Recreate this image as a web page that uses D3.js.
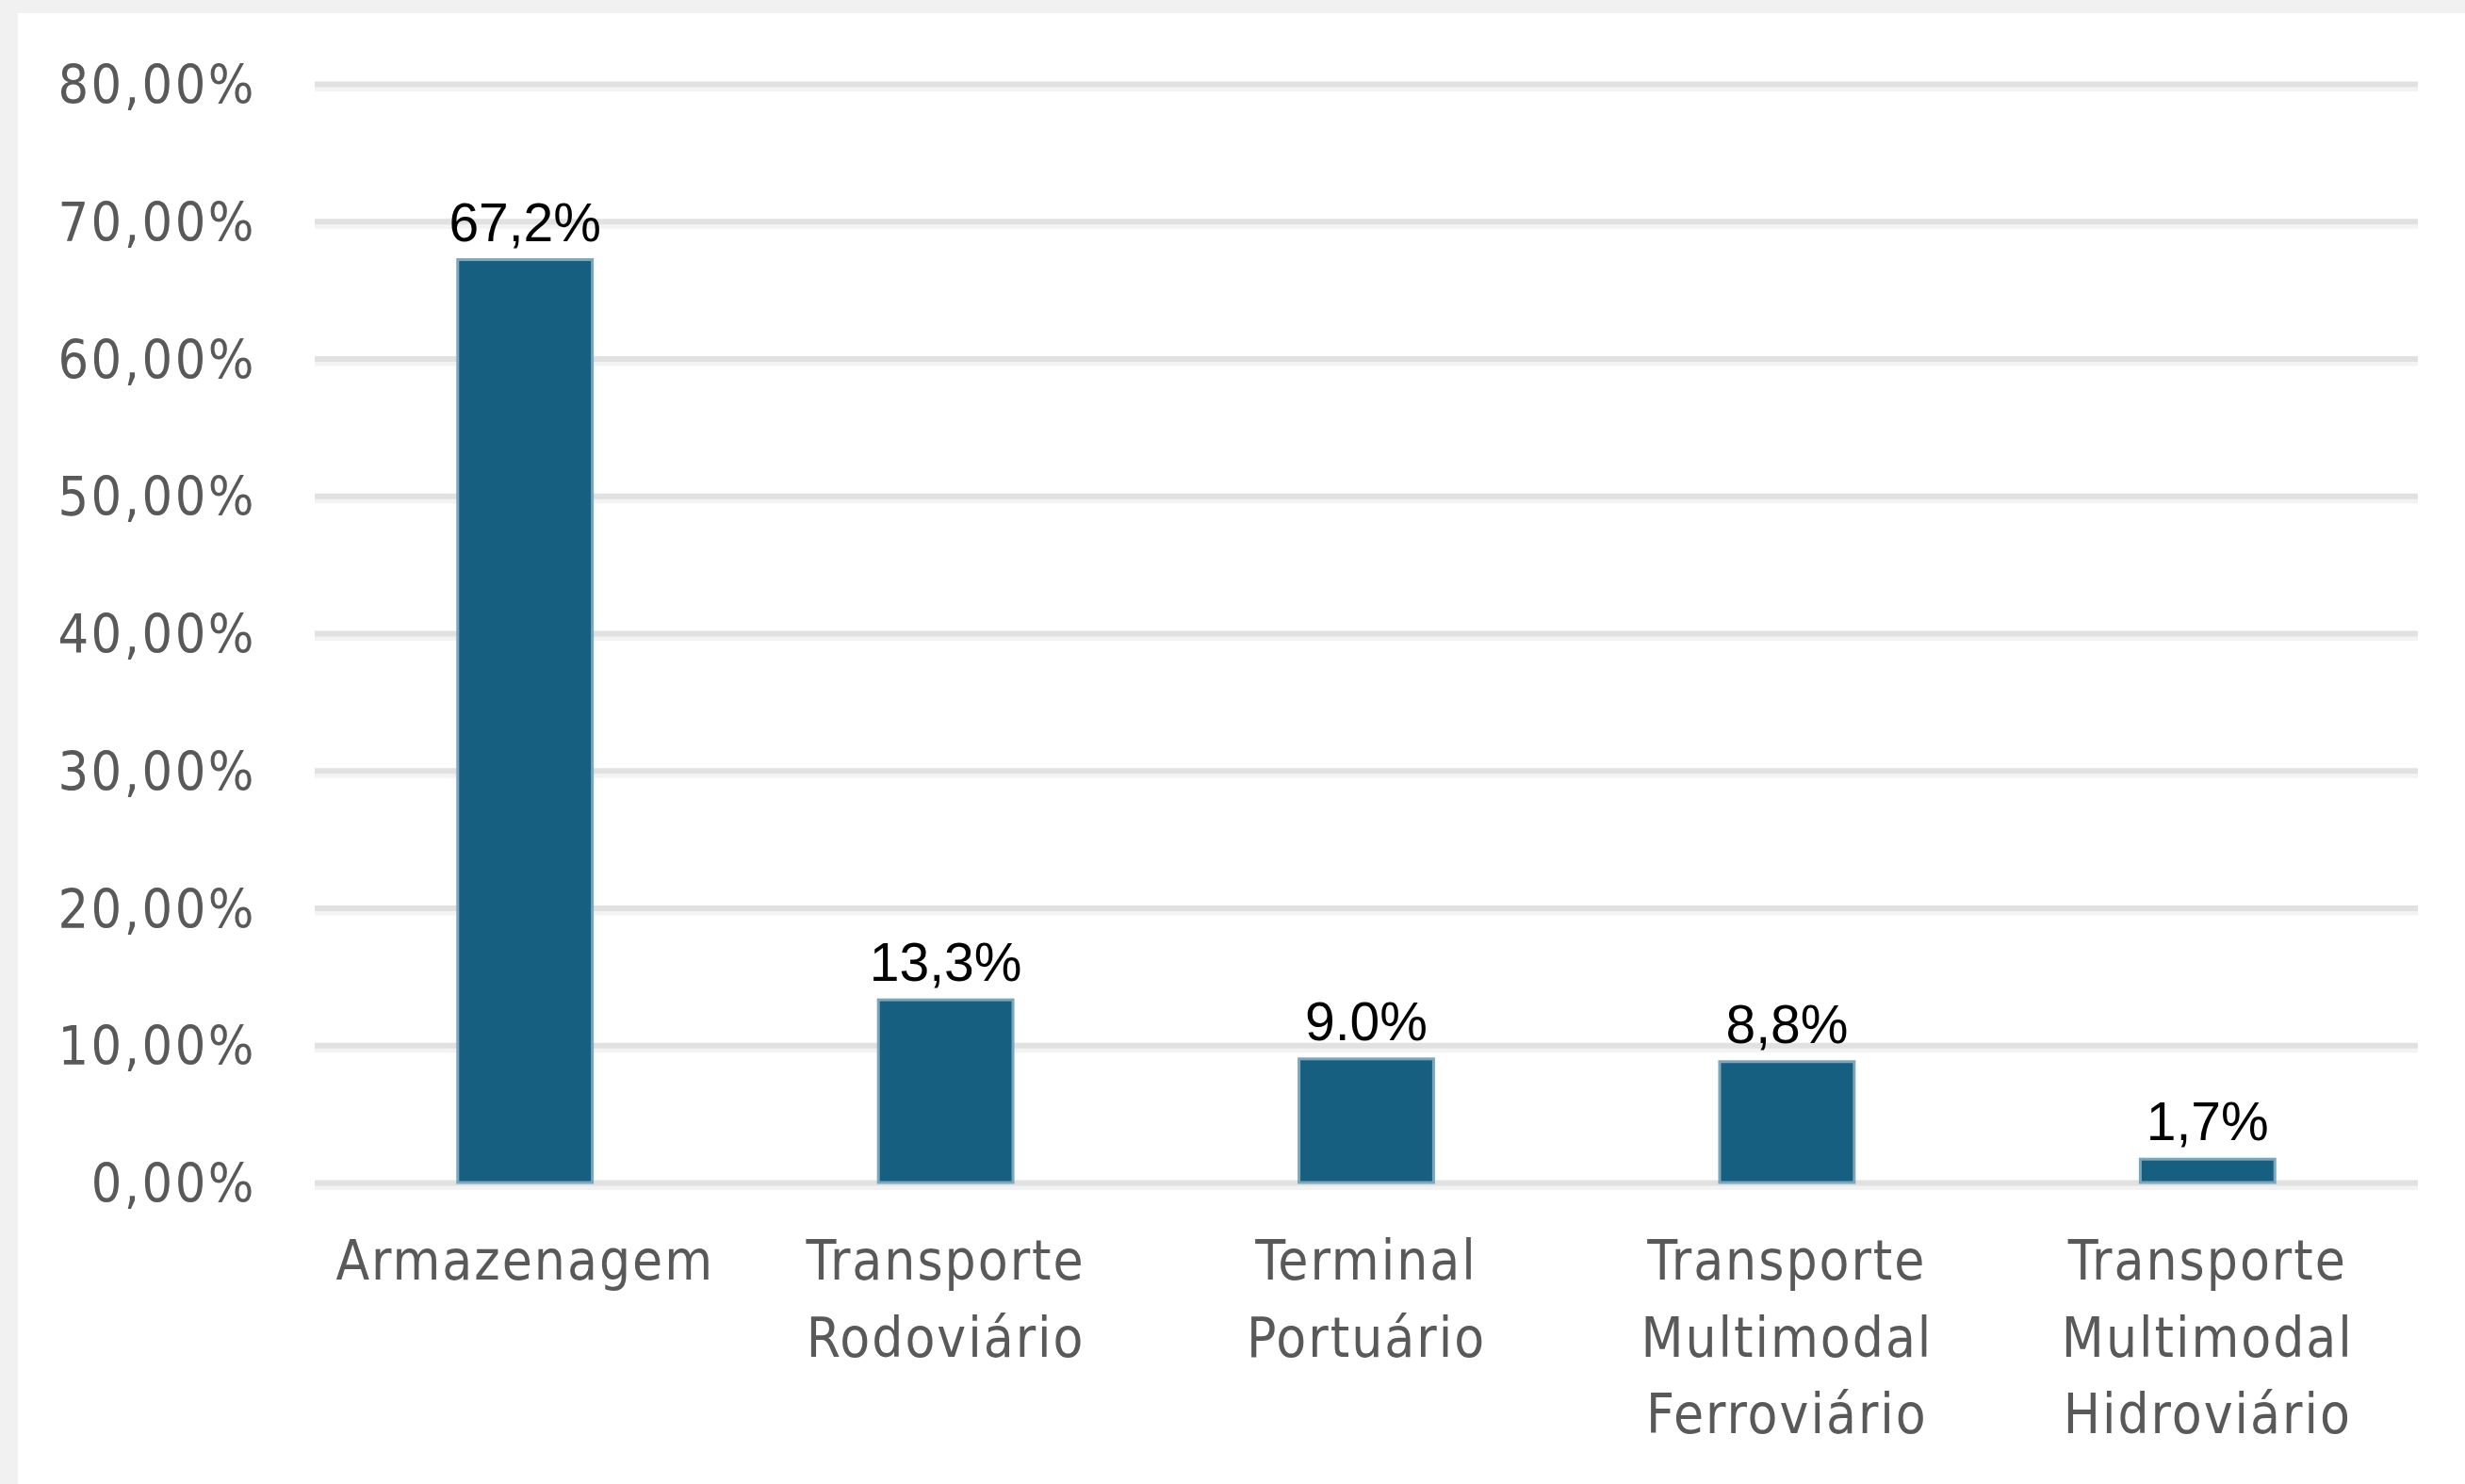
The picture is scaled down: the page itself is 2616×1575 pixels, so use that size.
<!DOCTYPE html>
<html>
<head>
<meta charset="utf-8">
<script src="https://cdn.jsdelivr.net/npm/d3@7"></script>
<style>
  html, body { margin: 0; padding: 0; background: #ffffff; }
  svg { display: block; }
  .tick-label { font-family: "DejaVu Sans Condensed", "DejaVu Sans", sans-serif; font-stretch: condensed; fill: #595959; }
  .value-label { font-family: "Liberation Sans", Arial, sans-serif; fill: #000000; }
</style>
</head>
<body>
<svg id="chart"></svg>
<script>
const categories = [
    ["Armazenagem"],
    ["Transporte", "Rodoviário"],
    ["Terminal", "Portuário"],
    ["Transporte", "Multimodal", "Ferroviário"],
    ["Transporte", "Multimodal", "Hidroviário"]
];
const shares = [67.2, 13.3, 9.0, 8.8, 1.7];
const valueLabels = ["67,2%", "13,3%", "9.0%", "8,8%", "1,7%"];
const yTicks = [0, 10, 20, 30, 40, 50, 60, 70, 80];
const yTickLabels = ["0,00%", "10,00%", "20,00%", "30,00%", "40,00%", "50,00%", "60,00%", "70,00%", "80,00%"];

const width = 2616;
const height = 1575;
const plotLeft = 334;
const plotRight = 2566;
const plotTop = 89;
const plotBottom = 1255;

function drawChart() {
    const svg = d3.select("#chart")
        .attr("width", width)
        .attr("height", height);

    // faint frame along top and left like the screenshot edge
    svg.append("rect").attr("x", 0).attr("y", 0).attr("width", width).attr("height", 14).attr("fill", "#f1f1f1");
    svg.append("rect").attr("x", 0).attr("y", 0).attr("width", 19).attr("height", height).attr("fill", "#f1f1f1");

    const ids = d3.range(categories.length);
    const x = d3.scaleBand()
        .domain(ids)
        .range([plotLeft, plotRight])
        .paddingInner(0.68)
        .paddingOuter(0.34);
    const y = d3.scaleLinear()
        .domain([0, 80])
        .range([plotBottom, plotTop]);

    // gridlines: darker band with a pale band underneath
    svg.append("g")
        .attr("transform", "translate(" + plotLeft + ", 5)")
        .call(d3.axisLeft(y).tickValues(yTicks).tickSize(-(plotRight - plotLeft)).tickFormat(""))
        .call(g => g.select(".domain").remove())
        .call(g => g.selectAll("line").attr("stroke", "#f3f3f3").attr("stroke-width", 5));
    svg.append("g")
        .attr("transform", "translate(" + plotLeft + ", 0)")
        .call(d3.axisLeft(y).tickValues(yTicks).tickSize(-(plotRight - plotLeft)).tickFormat(""))
        .call(g => g.select(".domain").remove())
        .call(g => g.selectAll("line").attr("stroke", "#e1e1e1").attr("stroke-width", 6));

    // y tick labels
    const yAxis = svg.append("g")
        .attr("transform", "translate(272, 0)")
        .call(d3.axisLeft(y).tickValues(yTicks).tickSize(0).tickPadding(0)
            .tickFormat((d, i) => yTickLabels[i]));
    yAxis.select(".domain").remove();
    yAxis.selectAll("text")
        .attr("class", "tick-label")
        .attr("font-size", 57)
        .attr("letter-spacing", 2.5)
        .attr("dy", "0.36em");

    // bars
    svg.append("g")
        .selectAll("rect")
        .data(shares)
        .join("rect")
        .attr("x", (d, i) => x(i))
        .attr("y", d => y(d))
        .attr("width", x.bandwidth())
        .attr("height", d => y(0) - y(d))
        .attr("fill", "#175f81")
        .attr("stroke", "#7ba7bd")
        .attr("stroke-width", 3);

    // value labels
    svg.append("g")
        .selectAll("text")
        .data(shares)
        .join("text")
        .attr("class", "value-label")
        .attr("x", (d, i) => x(i) + x.bandwidth() / 2)
        .attr("y", d => y(d) - 20)
        .attr("text-anchor", "middle")
        .attr("font-size", 57)
        .text((d, i) => valueLabels[i]);

    // category labels
    const xAxis = svg.append("g")
        .attr("transform", "translate(0, " + plotBottom + ")")
        .call(d3.axisBottom(x).tickSize(0).tickFormat(""));
    xAxis.select(".domain").remove();
    xAxis.selectAll(".tick").each(function (d) {
        const t = d3.select(this).append("text")
            .attr("class", "tick-label")
            .attr("text-anchor", "middle")
            .attr("font-size", 58)
            .attr("letter-spacing", 2);
        categories[d].forEach((line, k) => {
            t.append("tspan")
                .attr("x", 0)
                .attr("y", 103 + k * 81.5)
                .text(line);
        });
    });
}

drawChart();
</script>
</body>
</html>
